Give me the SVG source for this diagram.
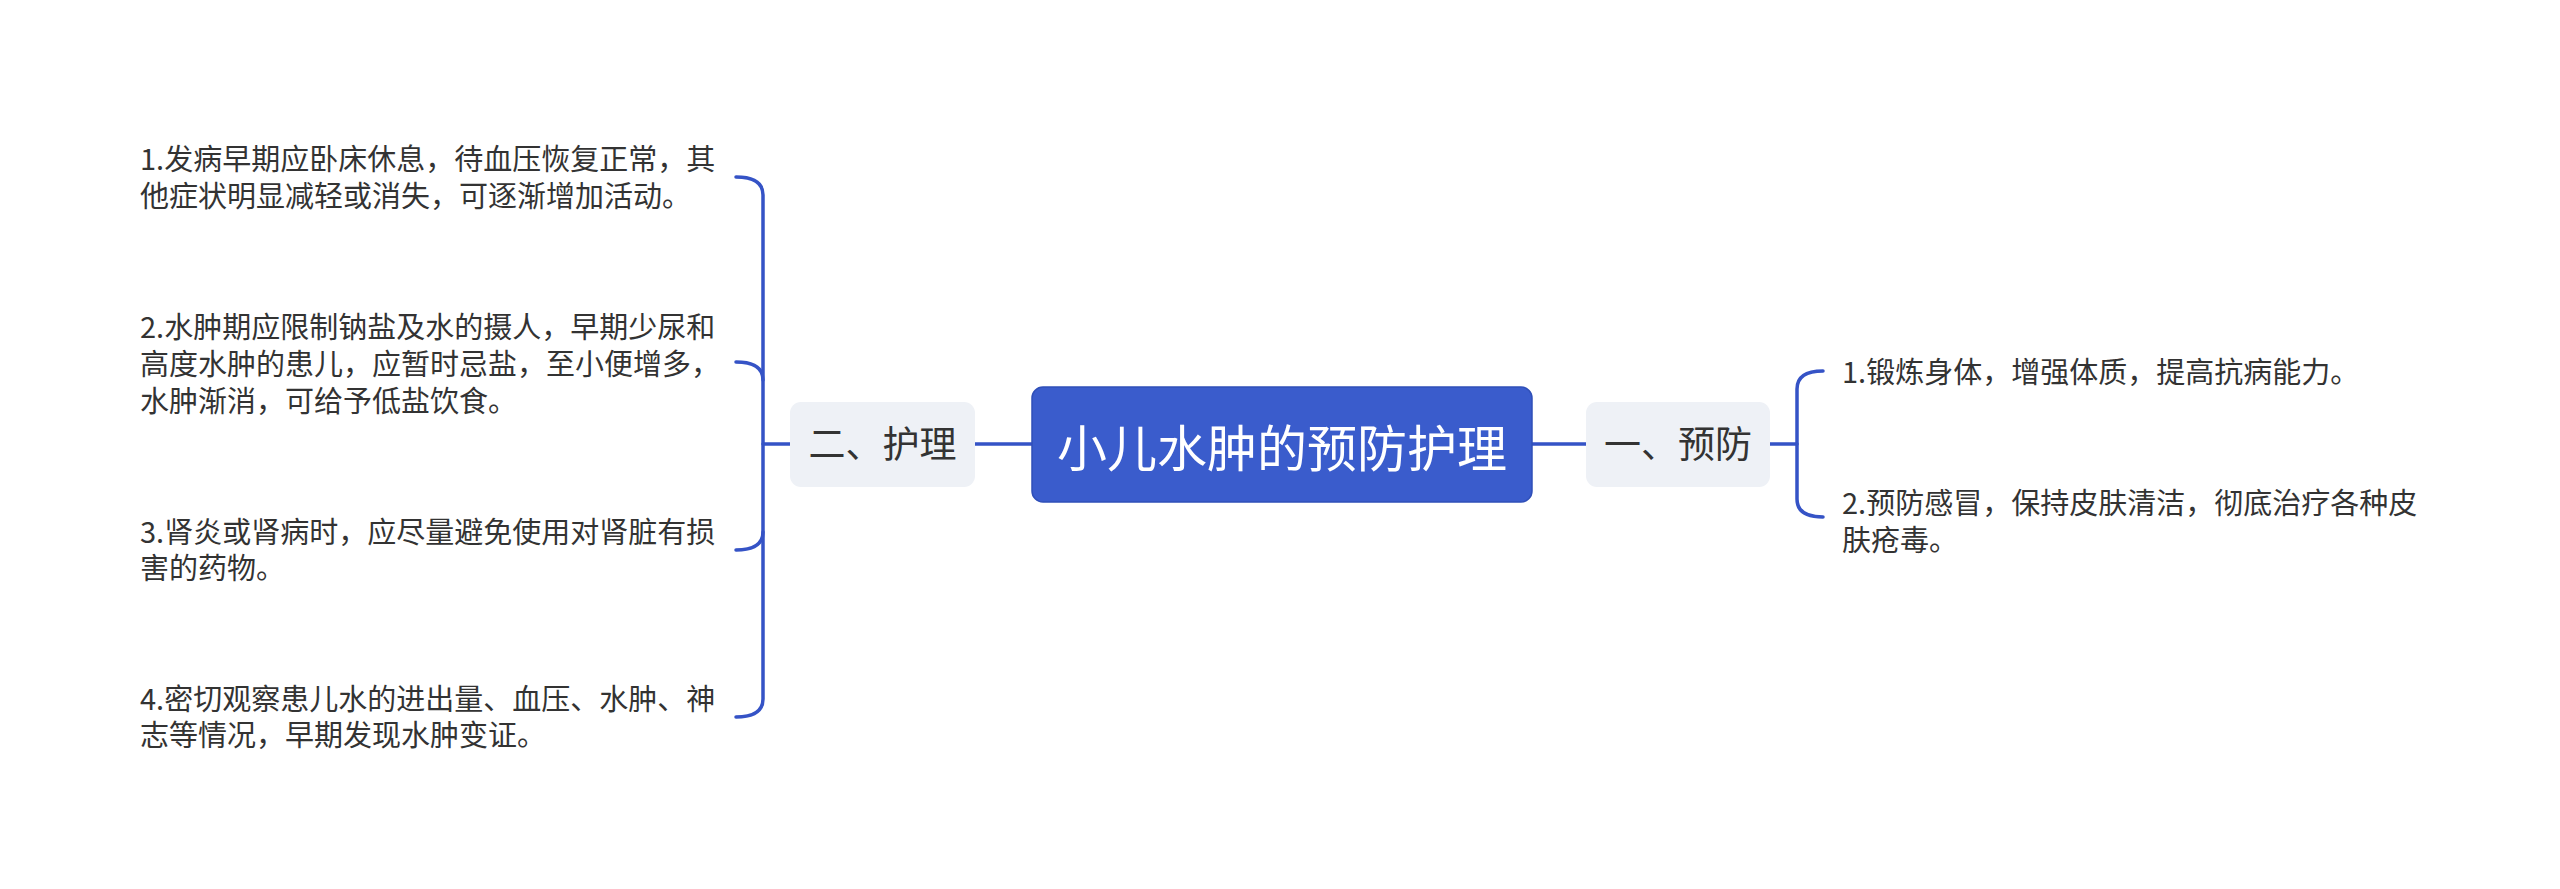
<svg xmlns="http://www.w3.org/2000/svg" width="2560" height="889" viewBox="0 0 2560 889">
<style>
.t{font-family:"Noto Sans CJK SC","Noto Sans",sans-serif;fill:#333333;font-size:29px}
.sub{fill:#eef1f6}
.st{font-family:"Noto Sans CJK SC","Noto Sans",sans-serif;fill:#333333;font-size:37px}
.c{fill:none;stroke:#3553c6;stroke-width:3.5;stroke-linecap:round}
</style>
<rect width="2560" height="889" fill="#ffffff"/>
<g id="connectors">
<path class="c" d="M975,444 H1032"/>
<path class="c" d="M1532,444 H1586"/>
<path class="c" d="M790,444 H763"/>
<path class="c" d="M736,177 Q763,177 763,195 V699 Q763,717 736,717"/>
<path class="c" d="M736,362 Q763,362 763,380"/>
<path class="c" d="M736,550 Q763,550 763,532"/>
<path class="c" d="M1770,444 H1797"/>
<path class="c" d="M1823,371 Q1797,371 1797,389 V499 Q1797,517 1823,517"/>
</g>
<g id="root">
<rect x="1032" y="387" width="500" height="115" rx="11" fill="#3a5ccc" stroke="#2f4fb8" stroke-width="1.5"/>
<text x="1282" y="467" text-anchor="middle" font-family="Noto Sans CJK SC, Noto Sans, sans-serif" font-size="50" fill="#ffffff">小儿水肿的预防护理</text>
</g>
<g id="n-huli">
<rect class="sub" x="790" y="402" width="185" height="85" rx="11"/>
<text class="st" x="882.5" y="458" text-anchor="middle">二、护理</text>
</g>
<g id="n-yufang">
<rect class="sub" x="1586" y="402" width="184" height="85" rx="11"/>
<text class="st" x="1678" y="458" text-anchor="middle">一、预防</text>
</g>
<g id="l1">
<text class="t" x="140" y="170">1.发病早期应卧床休息，待血压恢复正常，其</text>
<text class="t" x="140" y="206.7">他症状明显减轻或消失，可逐渐增加活动。</text>
</g>
<g id="l2">
<text class="t" x="140" y="338.3">2.水肿期应限制钠盐及水的摄人，早期少尿和</text>
<text class="t" x="140" y="375">高度水肿的患儿，应暂时忌盐，至小便增多，</text>
<text class="t" x="140" y="411.7">水肿渐消，可给予低盐饮食。</text>
</g>
<g id="l3">
<text class="t" x="140" y="542.7">3.肾炎或肾病时，应尽量避免使用对肾脏有损</text>
<text class="t" x="140" y="579.3">害的药物。</text>
</g>
<g id="l4">
<text class="t" x="140" y="709.7">4.密切观察患儿水的进出量、血压、水肿、神</text>
<text class="t" x="140" y="746.3">志等情况，早期发现水肿变证。</text>
</g>
<g id="r1">
<text class="t" x="1842" y="383">1.锻炼身体，增强体质，提高抗病能力。</text>
</g>
<g id="r2">
<text class="t" x="1842" y="514">2.预防感冒，保持皮肤清洁，彻底治疗各种皮</text>
<text class="t" x="1842" y="550.7">肤疮毒。</text>
</g>
</svg>
